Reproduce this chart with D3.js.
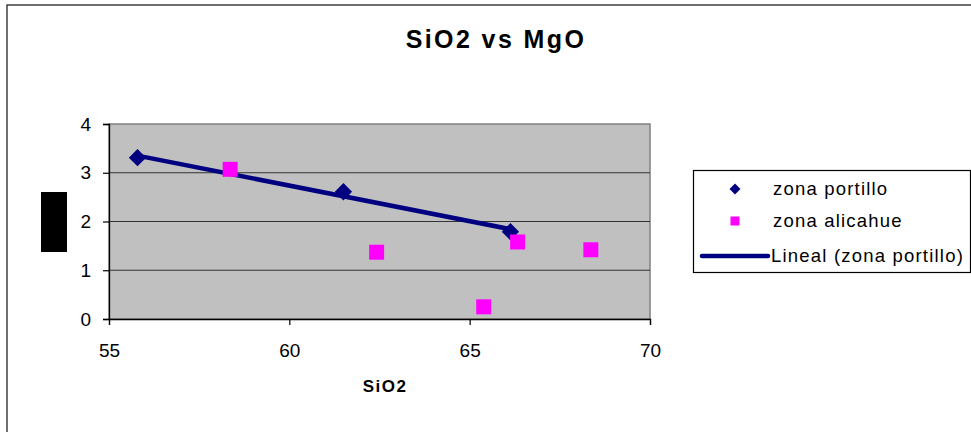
<!DOCTYPE html>
<html>
<head>
<meta charset="utf-8">
<script src="https://cdn.jsdelivr.net/npm/d3@7"></script>
<style>
  html, body { margin: 0; padding: 0; background: #fff; }
  svg { display: block; font-family: "Liberation Sans", Arial, sans-serif; }
</style>
</head>
<body>
<svg id="chart" width="971" height="432"></svg>
<script>
// SiO2 (wt%) and MgO (wt%) for the two sampled zones
const portilloSiO2 = [55.79, 61.5, 66.13];
const portilloMgO  = [3.31, 2.61, 1.79];
const alicahueSiO2 = [58.36, 62.42, 65.39, 66.33, 68.36];
const alicahueMgO  = [3.07, 1.37, 0.25, 1.58, 1.42];
const xTicks = [55, 60, 65, 70];
const yTicks = [0, 1, 2, 3, 4];
const legendLabels = ["zona portillo", "zona alicahue", "Lineal (zona portillo)"];

const navy = "#000080", magenta = "#FF00FF";
const svg = d3.select("#chart");

// chart frame
svg.append("rect").attr("x", 7).attr("y", 5).attr("width", 990).attr("height", 460)
  .attr("fill", "#fff").attr("stroke", "#222").attr("stroke-width", 1.3);

const x = d3.scaleLinear().domain([55, 70]).range([109, 650]);
const y = d3.scaleLinear().domain([0, 4]).range([319, 124]);

// plot area
svg.append("rect").attr("x", x(55)).attr("y", y(4))
  .attr("width", x(70) - x(55)).attr("height", y(0) - y(4))
  .attr("fill", "#C0C0C0").attr("stroke", "#808080").attr("stroke-width", 1.5);

// horizontal gridlines
svg.append("g").selectAll("line").data(yTicks.filter(v => v > 0 && v < 4)).join("line")
  .attr("x1", x(55)).attr("x2", x(70))
  .attr("y1", d => y(d)).attr("y2", d => y(d))
  .attr("stroke", "#333").attr("stroke-width", 1.2);

// axes
const yAxis = svg.append("g").attr("transform", `translate(${x(55)},0)`)
  .call(d3.axisLeft(y).tickValues(yTicks).tickSize(6).tickPadding(12).tickFormat(d3.format("d")));
const xAxis = svg.append("g").attr("transform", `translate(0,${y(0)})`)
  .call(d3.axisBottom(x).tickValues(xTicks).tickSize(6).tickPadding(19).tickFormat(d3.format("d")));
[yAxis, xAxis].forEach(a => {
  a.select(".domain").attr("stroke", "#000").attr("stroke-width", 1.3);
  a.selectAll(".tick line").attr("stroke", "#000").attr("stroke-width", 1.2);
  a.selectAll(".tick text").attr("font-size", 19).attr("fill", "#000")
    .attr("font-family", "Liberation Sans, Arial, sans-serif");
});

// least-squares trend line through the portillo samples
const mx = d3.mean(portilloSiO2), my = d3.mean(portilloMgO);
const sxy = d3.sum(portilloSiO2, (v, i) => (v - mx) * (portilloMgO[i] - my));
const sxx = d3.sum(portilloSiO2, v => (v - mx) * (v - mx));
const slope = sxy / sxx, intercept = my - slope * mx;
const xMin = d3.min(portilloSiO2), xMax = d3.max(portilloSiO2);

// portillo diamonds
const diamond = d3.symbol().type(d3.symbolSquare).size(150);
svg.append("g").selectAll("path").data(portilloSiO2).join("path")
  .attr("d", diamond)
  .attr("transform", (d, i) => `translate(${x(d)},${y(portilloMgO[i])}) rotate(45)`)
  .attr("fill", navy);

// trend line
svg.append("line")
  .attr("x1", x(xMin)).attr("y1", y(intercept + slope * xMin))
  .attr("x2", x(xMax)).attr("y2", y(intercept + slope * xMax))
  .attr("stroke", navy).attr("stroke-width", 4.5);

// alicahue squares
svg.append("g").selectAll("rect").data(alicahueSiO2).join("rect")
  .attr("x", d => x(d) - 7.5).attr("y", (d, i) => y(alicahueMgO[i]) - 7.5)
  .attr("width", 15).attr("height", 15).attr("fill", magenta);

// title
svg.append("text").attr("x", 496).attr("y", 48).attr("text-anchor", "middle")
  .attr("font-size", 25).attr("font-weight", "bold").attr("letter-spacing", 2.4)
  .text("SiO2 vs MgO");

// x axis title
svg.append("text").attr("x", 385).attr("y", 392).attr("text-anchor", "middle")
  .attr("font-size", 17).attr("font-weight", "bold").attr("letter-spacing", 1.5)
  .text("SiO2");

// y axis title (drawn on a solid black label box)
svg.append("rect").attr("x", 41).attr("y", 192).attr("width", 26).attr("height", 60).attr("fill", "#000");
svg.append("text").attr("transform", "translate(62,222) rotate(-90)")
  .attr("text-anchor", "middle").attr("font-size", 17).attr("font-weight", "bold")
  .attr("fill", "#000").text("MgO");

// legend
const lg = svg.append("g");
lg.append("rect").attr("x", 693.5).attr("y", 170.5).attr("width", 277).attr("height", 102)
  .attr("fill", "#fff").attr("stroke", "#000").attr("stroke-width", 1.2);
const rows = [189, 221, 256];
lg.append("path").attr("d", d3.symbol().type(d3.symbolSquare).size(60))
  .attr("transform", `translate(735,${rows[0]}) rotate(45)`).attr("fill", navy);
lg.append("rect").attr("x", 730.5).attr("y", rows[1] - 4.5).attr("width", 9).attr("height", 9).attr("fill", magenta);
lg.append("line").attr("x1", 702).attr("x2", 768).attr("y1", rows[2]).attr("y2", rows[2])
  .attr("stroke", navy).attr("stroke-width", 4.5).attr("stroke-linecap", "round");
lg.selectAll("text.lab").data(legendLabels).join("text").attr("class", "lab")
  .attr("x", (d, i) => i === 2 ? 771 : 773).attr("y", (d, i) => rows[i])
  .attr("dy", "0.35em").attr("font-size", 18.5).attr("letter-spacing", 1.2).attr("fill", "#000")
  .text(d => d);
</script>
</body>
</html>
